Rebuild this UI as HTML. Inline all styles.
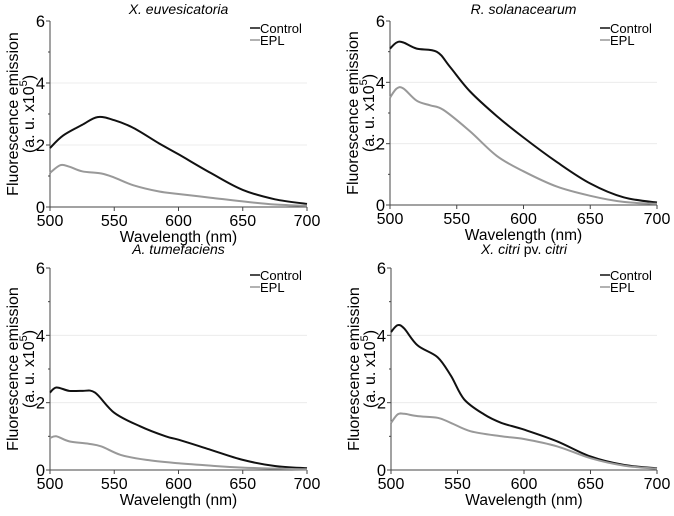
<!DOCTYPE html>
<html><head><meta charset="utf-8"><style>
html,body{margin:0;padding:0;background:#fff;}
svg{display:block;font-family:"Liberation Sans",Arial,sans-serif;}
</style></head><body>
<svg id="fig" width="674" height="516"></svg>
<script>
const xTicks=[500,550,600,650,700];
const yTicks=[0,2,4,6];
const seriesNames=["Control","EPL"];
const titles=["X. euvesicatoria","R. solanacearum","A. tumefaciens","X. citri pv. citri"];
const xs1=[500,510,525,537,550,565,585,600,625,650,675,700];
const c1=[1.9,2.3,2.65,2.9,2.8,2.55,2.05,1.7,1.1,0.55,0.25,0.1];
const xe1=[500,508,515,525,540,550,565,585,600,625,650,675,700];
const e1=[1.1,1.35,1.3,1.15,1.08,0.95,0.7,0.5,0.42,0.3,0.18,0.08,0.04];
const xs2=[500,505,510,520,535,545,560,580,600,625,650,675,700];
const c2=[5.1,5.3,5.3,5.1,5.0,4.5,3.7,2.9,2.2,1.4,0.7,0.25,0.08];
const xe2=[500,505,510,520,530,540,560,580,600,625,650,675,700];
const e2=[3.5,3.8,3.8,3.4,3.25,3.1,2.4,1.6,1.1,0.6,0.3,0.1,0.04];
const xs3=[500,505,515,525,535,550,570,590,600,625,650,675,700];
const c3=[2.3,2.45,2.35,2.35,2.3,1.7,1.3,1.0,0.9,0.6,0.3,0.12,0.05];
const xe3=[500,505,515,530,540,555,575,600,625,650,700];
const e3=[0.95,1.0,0.85,0.78,0.7,0.45,0.3,0.2,0.13,0.07,0.02];
const xs4=[500,505,510,520,535,545,555,570,583,600,625,650,675,700];
const c4=[4.1,4.3,4.2,3.7,3.35,2.8,2.1,1.65,1.4,1.2,0.85,0.4,0.15,0.05];
const xe4=[500,505,510,520,535,545,560,583,600,625,650,675,700];
const e4=[1.4,1.65,1.67,1.6,1.55,1.4,1.15,1.0,0.92,0.7,0.35,0.13,0.04];

const panels=[
 {x0:50,x1:307,yT:21,yB:207,ty:14,t:titles[0],cx:xs1,c:c1,ex:xe1,e:e1},
 {x0:390,x1:657,yT:21,yB:205,ty:14,t:titles[1],cx:xs2,c:c2,ex:xe2,e:e2},
 {x0:50,x1:307,yT:268,yB:470,ty:254,t:titles[2],cx:xs3,c:c3,ex:xe3,e:e3},
 {x0:391,x1:657,yT:268,yB:470,ty:254,t:titles[3],cx:xs4,c:c4,ex:xe4,e:e4}
];
const NS="http://www.w3.org/2000/svg";
const svg=document.getElementById('fig');
function mk(tag,attrs,parent,text){const el=document.createElementNS(NS,tag);for(const k in attrs)el.setAttribute(k,attrs[k]);if(text!==undefined)el.textContent=text;(parent||svg).appendChild(el);return el;}
function smooth(pts){let d='M'+pts[0][0].toFixed(1)+','+pts[0][1].toFixed(1);
 for(let i=0;i<pts.length-1;i++){const p0=pts[i-1]||pts[i],p1=pts[i],p2=pts[i+1],p3=pts[i+2]||p2;
  const c1x=p1[0]+(p2[0]-p0[0])/6,c1y=p1[1]+(p2[1]-p0[1])/6,c2x=p2[0]-(p3[0]-p1[0])/6,c2y=p2[1]-(p3[1]-p1[1])/6;
  d+=`C${c1x.toFixed(1)},${c1y.toFixed(1)} ${c2x.toFixed(1)},${c2y.toFixed(1)} ${p2[0].toFixed(1)},${p2[1].toFixed(1)}`;}
 return d;}
panels.forEach((p,i)=>{
 const g=mk('g',{});
 
 
 const sx=v=>p.x0+(v-500)/200*(p.x1-p.x0);
 const sy=v=>p.yB-(v/6)*(p.yB-p.yT);
 [2,4].forEach(v=>{const l=mk('line',{x1:p.x0,x2:p.x1,y1:sy(v),y2:sy(v),stroke:'#ececec','stroke-width':1},g);
  
  });
 const tt=mk('text',{x:(p.x0+p.x1)/2,y:p.ty,'text-anchor':'middle','font-size':14},g);
 
 
 if(i===3){mk('tspan',{'font-style':'italic'},tt,'X. citri');mk('tspan',{},tt,' pv. ');mk('tspan',{'font-style':'italic'},tt,'citri');}
 else{tt.setAttribute('font-style','italic');tt.textContent=p.t;}
 const ax=mk('path',{d:`M${p.x0},${p.yT}V${p.yB}H${p.x1}`,fill:'none',stroke:'#444','stroke-width':1},g);
 
 
 for(let v=0;v<=6;v++){mk('line',{x1:p.x0-(v%2?2:4),x2:p.x0,y1:sy(v),y2:sy(v),stroke:'#444'},g);}
 yTicks.forEach(v=>{const t=mk('text',{x:p.x0-5,y:sy(v)+6,'text-anchor':'end','font-size':16.5},g,String(v));
  
  });
 xTicks.forEach(v=>{mk('line',{x1:sx(v),x2:sx(v),y1:p.yB,y2:p.yB+4,stroke:'#444'},g);
  const t=mk('text',{x:sx(v),y:p.yB+19,'text-anchor':'middle','font-size':16},g,String(v));
  
  });
 const xl=mk('text',{x:(p.x0+p.x1)/2,y:p.yB+35,'text-anchor':'middle','font-size':15.5},g,'Wavelength (nm)');
 
 
 const cy=(p.yT+p.yB)/2;
 const yl=mk('text',{transform:`translate(${p.x0-32},${cy}) rotate(-90)`,'text-anchor':'middle','font-size':16},g);
 
 
 mk('tspan',{x:0,dy:0},yl,'Fluorescence emission');
 mk('tspan',{x:0,dy:16},yl,'(a. u. x10');
 mk('tspan',{'font-size':11,dy:-7},yl,'5');
 mk('tspan',{dy:7},yl,')');
 const pts=(xa,ya)=>xa.map((x,k)=>[sx(x),sy(ya[k])]);
 const lc=mk('path',{d:smooth(pts(p.cx,p.c)),fill:'none',stroke:'#111','stroke-width':2,'stroke-linejoin':'round'},g);
 
 
 const le=mk('path',{d:smooth(pts(p.ex,p.e)),fill:'none',stroke:'#999','stroke-width':2,'stroke-linejoin':'round'},g);
 
 
 seriesNames.forEach((n,k)=>{
  const ly=p.yT+12+k*12, lx=p.x1-57;
  const leg=mk('g',{},g);
  
  
  mk('line',{x1:lx,x2:lx+10,y1:ly-5,y2:ly-5,stroke:k?'#999':'#111','stroke-width':1.5},leg);
  mk('text',{x:lx+10,y:ly,'font-size':13},leg,n);
 });
});
</script>
</body></html>
